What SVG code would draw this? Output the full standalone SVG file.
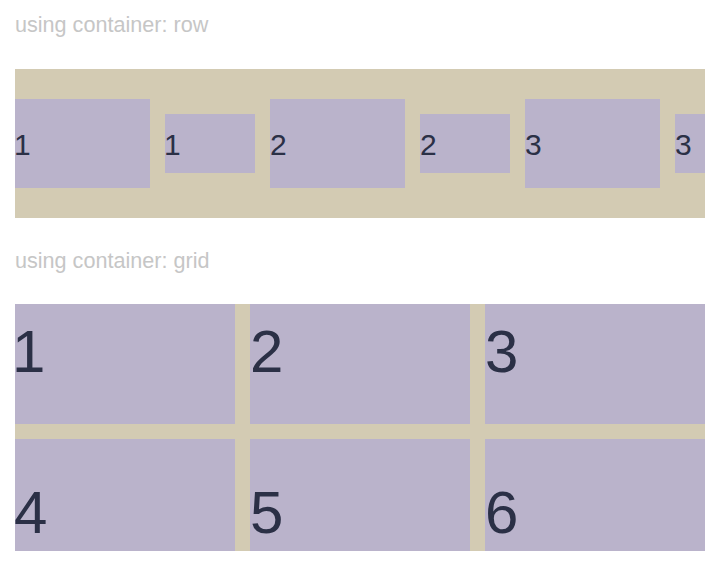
<svg xmlns="http://www.w3.org/2000/svg" width="720" height="580" viewBox="0 0 720 580">
<style>
.title{font-family:"Liberation Sans",Arial,sans-serif;font-size:21.6px;fill:#c6c6c6}
.cont{fill:#d3cbb3}
.box{fill:#bab3cb}
.sm{font-family:"Liberation Sans",Arial,sans-serif;font-size:30px;fill:#2b3046}
.lg{font-family:"Liberation Sans",Arial,sans-serif;font-size:60px;fill:#2b3046}
</style>
<rect width="720" height="580" fill="#ffffff"/>
<text class="title" x="15" y="32">using container: row</text>
<rect class="cont" x="15" y="69" width="690" height="149"/>
<g id="row-1a"><rect class="box" x="15" y="99" width="135" height="89"/><text class="sm" x="14" y="155">1</text></g>
<g id="row-1b"><rect class="box" x="165" y="114" width="90" height="59"/><text class="sm" x="164" y="155">1</text></g>
<g id="row-2a"><rect class="box" x="270" y="99" width="135" height="89"/><text class="sm" x="270" y="155">2</text></g>
<g id="row-2b"><rect class="box" x="420" y="114" width="90" height="59"/><text class="sm" x="420" y="155">2</text></g>
<g id="row-3a"><rect class="box" x="525" y="99" width="135" height="89"/><text class="sm" x="525" y="155">3</text></g>
<g id="row-3b"><rect class="box" x="675" y="114" width="30" height="59"/><text class="sm" x="675" y="155">3</text></g>
<text class="title" x="15" y="268">using container: grid</text>
<rect class="cont" x="15" y="304" width="690" height="247"/>
<g id="grid-1"><rect class="box" x="15" y="304" width="220" height="120"/><text class="lg" x="12" y="372">1</text></g>
<g id="grid-2"><rect class="box" x="250" y="304" width="220" height="120"/><text class="lg" x="250" y="372">2</text></g>
<g id="grid-3"><rect class="box" x="485" y="304" width="220" height="120"/><text class="lg" x="485" y="372">3</text></g>
<g id="grid-4"><rect class="box" x="15" y="439" width="220" height="112"/><text class="lg" x="14" y="533">4</text></g>
<g id="grid-5"><rect class="box" x="250" y="439" width="220" height="112"/><text class="lg" x="250" y="533">5</text></g>
<g id="grid-6"><rect class="box" x="485" y="439" width="220" height="112"/><text class="lg" x="485" y="533">6</text></g>
<g id="connectors"/>
</svg>
